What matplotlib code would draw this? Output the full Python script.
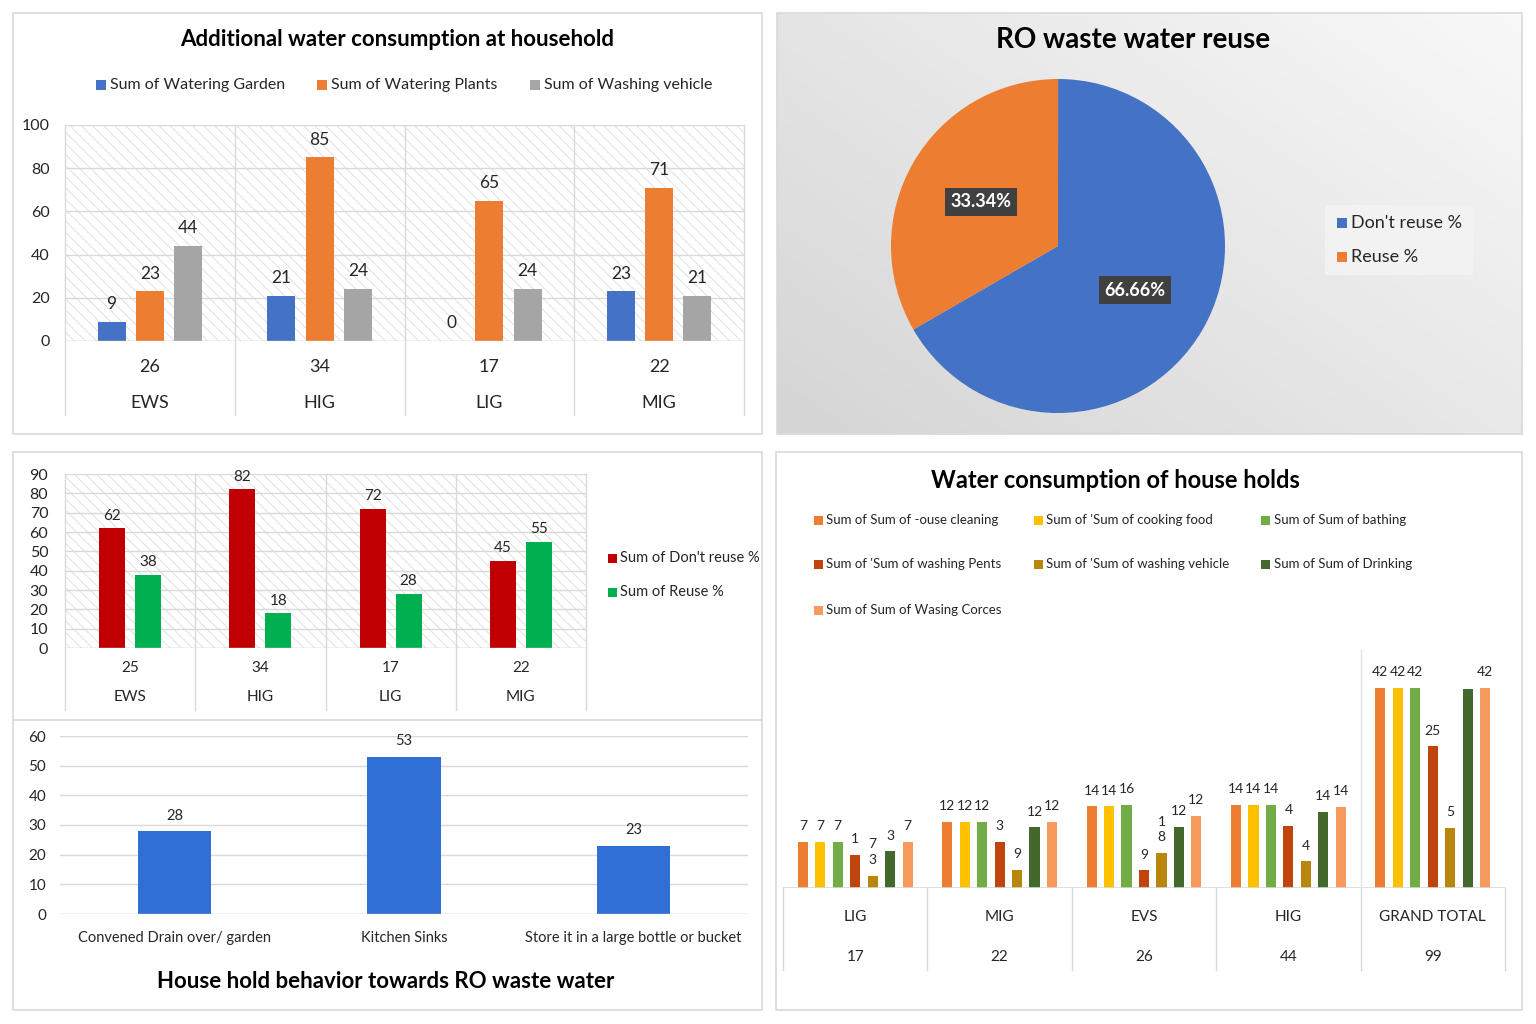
import numpy as np
import matplotlib
matplotlib.use('Agg')
import matplotlib.pyplot as plt
from matplotlib.patches import Rectangle

W, H = 1536, 1024
plt.rcParams['font.family'] = ['Lato', 'DejaVu Sans']
plt.rcParams['hatch.linewidth'] = 0.6
TXT = '#262626'

# --- data: additional water consumption at household
add_groups = ['EWS', 'HIG', 'LIG', 'MIG']
add_counts = ['26', '34', '17', '22']
add_garden = [9, 21, 0, 23]
add_plants = [23, 85, 65, 71]
add_vehicle = [44, 24, 24, 21]

# --- data: RO waste water reuse (pie)
pie_labels = ["Don't reuse %", 'Reuse %']
pie_values = [66.66, 33.34]

# --- data: reuse by group
reuse_groups = ['EWS', 'HIG', 'LIG', 'MIG']
reuse_counts = ['25', '34', '17', '22']
dont_reuse = [62, 82, 72, 45]
reuse = [38, 18, 28, 55]

# --- data: household behaviour towards RO waste water
behav_cats = ['Convened Drain over/ garden', 'Kitchen Sinks', 'Store it in a large bottle or bucket']
behav_vals = [28, 53, 23]

# --- data: water consumption of households (bar heights as drawn, labels as printed)
cons_groups = ['LIG', 'MIG', 'EVS', 'HIG', 'GRAND TOTAL']
cons_counts = ['17', '22', '26', '44', '99']
cons_series = ['Sum of Sum of -ouse cleaning', "Sum of 'Sum of cooking food", 'Sum of Sum of bathing',
               "Sum of 'Sum of washing Pents", "Sum of 'Sum of washing vehicle", 'Sum of Sum of Drinking',
               'Sum of Sum of Wasing Corces']
cons_heights = [
    [9.6, 13.8, 17.1, 17.4, 42],
    [9.6, 13.8, 17.1, 17.4, 42],
    [9.6, 13.8, 17.4, 17.4, 42],
    [6.9, 9.6, 3.7, 13.0, 29.7],
    [2.6, 3.8, 7.3, 5.6, 12.6],
    [7.7, 12.7, 12.8, 15.9, 41.7],
    [9.6, 13.8, 15.2, 17.0, 42],
]
cons_labels = [
    ['7', '12', '14', '14', '42'],
    ['7', '12', '14', '14', '42'],
    ['7', '12', '16', '14', '42'],
    ['1', '3', '9', '4', '25'],
    ['7\n3', '9', '1\n8', '4', '5'],
    ['3', '12', '12', '14', ''],
    ['7', '12', '12', '14', '42'],
]
cons_colors = ['#ED7D31', '#FFC000', '#70AD47', '#C0440E', '#B8860B', '#43682B', '#F79A5E']


def rect(x0, y0, x1, y1):
    return [x0 / W, 1 - y1 / H, (x1 - x0) / W, (y1 - y0) / H]


def box(fig, x0, y0, x1, y1):
    fig.add_artist(Rectangle((x0 / W, 1 - y1 / H), (x1 - x0) / W, (y1 - y0) / H,
                             transform=fig.transFigure, fill=False, ec='#d9d9d9', lw=1.2))


def legend_item(fig, x, y, color, label, size=11, sq=10):
    fig.add_artist(Rectangle(((x - sq / 2) / W, 1 - (y + sq / 2) / H), sq / W, sq / H,
                             transform=fig.transFigure, color=color, lw=0))
    fig.text((x + sq / 2 + 4) / W, 1 - y / H, label, fontsize=size, va='center', ha='left', color=TXT)


def style_axes(ax, ymax, step, fs, pad, hatch=True):
    ax.set_ylim(0, ymax)
    ax.set_yticks(np.arange(0, ymax + 1, step))
    ax.set_xticks([])
    for s in ax.spines.values():
        s.set_visible(False)
    ax.tick_params(axis='y', length=0, labelsize=fs, pad=pad, labelcolor=TXT)
    ax.grid(axis='y', color='#d9d9d9', lw=1)
    ax.set_axisbelow(True)
    if hatch:
        ax.add_patch(Rectangle((0, 0), 1, 1, transform=ax.transAxes, fc='white',
                               ec='#dcdcdc', hatch='\\\\\\', lw=0, zorder=0))


def category_area(ax, n, top, bottom, y_top, y_bot, y_end, fs, plot_lines=True):
    tr = ax.get_xaxis_transform()
    for b in np.arange(n + 1) - 0.5:
        ax.plot([b, b], [1 if plot_lines else 0, y_end], transform=tr, color='#d9d9d9',
                lw=1, clip_on=False, zorder=0.5)
    for i in range(n):
        ax.text(i, y_top, top[i], transform=tr, ha='center', va='center', fontsize=fs, color=TXT)
        ax.text(i, y_bot, bottom[i], transform=tr, ha='center', va='center', fontsize=fs, color=TXT)


fig = plt.figure(figsize=(W / 100, H / 100), dpi=100)
fig.patch.set_facecolor('white')

# ================= panel 1: additional water consumption =================
box(fig, 13, 13, 762, 434)
fig.text(397 / W, 1 - 40 / H, 'Additional water consumption at household', ha='center', va='center',
         fontsize=16, fontweight='bold', color='black')
legend_item(fig, 101, 85, '#4472C4', 'Sum of Watering Garden', 11.5)
legend_item(fig, 322, 85, '#ED7D31', 'Sum of Watering Plants', 11.5)
legend_item(fig, 535, 85, '#A5A5A5', 'Sum of Washing vehicle', 11.5)

ax1 = fig.add_axes(rect(65, 125, 744, 341))
x = np.arange(len(add_groups))
style_axes(ax1, 100, 20, 11.5, 11)
bw, off = 0.165, 0.225
for vals, col, dx in [(add_garden, '#4472C4', -off), (add_plants, '#ED7D31', 0), (add_vehicle, '#A5A5A5', off)]:
    ax1.bar(x + dx, vals, bw, color=col, zorder=2)
    for xi, v in zip(x + dx, vals):
        ax1.annotate(str(v), (xi, v), xytext=(0, 7), textcoords='offset points', ha='center',
                     va='bottom', fontsize=12.5, color=TXT)
ax1.set_xlim(-0.5, len(add_groups) - 0.5)
ax1.axhline(0, color='#d9d9d9', lw=1)
category_area(ax1, 4, add_counts, add_groups, -0.12, -0.287, -0.343, 13)

# ================= panel 2: pie =================
bg = fig.add_axes(rect(777, 13, 1522, 434))
xx, yy = np.meshgrid(np.linspace(0, 1, 200), np.linspace(0, 1, 120))
shade = 0.975 - 0.14 * (0.55 * (1 - xx) + 0.45 * yy)
bg.imshow(np.dstack([shade] * 3), extent=[0, 1, 0, 1], aspect='auto')
bg.set_axis_off()
box(fig, 777, 13, 1522, 434)
fig.text(1133 / W, 1 - 40 / H, 'RO waste water reuse', ha='center', va='center',
         fontsize=20, fontweight='bold', color='black')

axp = fig.add_axes(rect(891, 78, 1225, 414))
wedges, _, autotexts = axp.pie(pie_values, colors=['#4472C4', '#ED7D31'], startangle=210,
                               autopct=lambda p: f'{p:.2f}%', pctdistance=0.53,
                               wedgeprops=dict(lw=0))
for t in autotexts:
    t.set_color('white')
    t.set_fontsize(13)
    t.set_fontweight('bold')
    t.set_bbox(dict(boxstyle='square,pad=0.3', fc='#404040', ec='none'))
axp.set_xlim(-1, 1)
axp.set_ylim(-1, 1)
fig.add_artist(Rectangle((1325 / W, 1 - 275 / H), 148 / W, 70 / H, transform=fig.transFigure,
                         fc='#f2f2f2', ec='none'))
legend_item(fig, 1342, 223, '#4472C4', pie_labels[0], 13)
legend_item(fig, 1342, 257, '#ED7D31', pie_labels[1], 13)

# ================= panel 3: reuse by group =================
box(fig, 13, 452, 762, 1010)
fig.add_artist(plt.Line2D([13 / W, 762 / W], [1 - 720 / H, 1 - 720 / H], transform=fig.transFigure,
                          color='#d9d9d9', lw=1.2))
ax3 = fig.add_axes(rect(65, 474, 586, 648))
x = np.arange(len(reuse_groups))
style_axes(ax3, 90, 10, 11.5, 12)
bw, off = 0.2, 0.138
for vals, col, dx in [(dont_reuse, '#C00000', -off), (reuse, '#00B050', off)]:
    ax3.bar(x + dx, vals, bw, color=col, zorder=2)
    for xi, v in zip(x + dx, vals):
        ax3.annotate(str(v), (xi, v), xytext=(0, 4), textcoords='offset points', ha='center',
                     va='bottom', fontsize=11, color=TXT)
ax3.set_xlim(-0.5, len(reuse_groups) - 0.5)
ax3.axhline(0, color='#d9d9d9', lw=1)
category_area(ax3, 4, reuse_counts, reuse_groups, -0.115, -0.28, -0.356, 11)
legend_item(fig, 612, 558, '#C00000', "Sum of Don't reuse %", 10.5, 9)
legend_item(fig, 612, 592, '#00B050', 'Sum of Reuse %', 10.5, 9)

# ================= panel 4: household behaviour =================
ax4 = fig.add_axes(rect(60, 736, 748, 914))
x = np.arange(len(behav_cats))
style_axes(ax4, 60, 10, 11, 10, hatch=False)
ax4.bar(x, behav_vals, 0.32, color='#2F6FD6', zorder=2)
for xi, v in zip(x, behav_vals):
    ax4.annotate(str(v), (xi, v), xytext=(0, 6), textcoords='offset points', ha='center',
                 va='bottom', fontsize=10.5, color=TXT)
ax4.set_xlim(-0.5, len(behav_cats) - 0.5)
ax4.axhline(0, color='#d9d9d9', lw=1)
tr = ax4.get_xaxis_transform()
for i, c in enumerate(behav_cats):
    ax4.text(i, -0.135, c, transform=tr, ha='center', va='center', fontsize=10.5, color=TXT)
fig.text(386 / W, 1 - 981 / H, 'House hold behavior towards RO waste water', ha='center', va='center',
         fontsize=16, fontweight='bold', color='black')

# ================= panel 5: water consumption of households =================
box(fig, 776, 452, 1522, 1010)
fig.text(1115 / W, 1 - 480 / H, 'Water consumption of house holds', ha='center', va='center',
         fontsize=17, fontweight='bold', color='black')
leg_pos = [(818, 520), (1038, 520), (1265, 520), (818, 564), (1038, 564), (1265, 564), (818, 610)]
for (lx, ly), col, lab in zip(leg_pos, cons_colors, cons_series):
    legend_item(fig, lx, ly, col, lab, 9.5, 9)

ax5 = fig.add_axes(rect(783, 640, 1505, 888))
x = np.arange(len(cons_groups))
ax5.set_ylim(0, 52)
ax5.set_xlim(-0.5, len(cons_groups) - 0.5)
ax5.set_xticks([])
ax5.set_yticks([])
for s in ax5.spines.values():
    s.set_visible(False)
bw, pitch = 0.07, 0.121
for k, (hts, labs, col) in enumerate(zip(cons_heights, cons_labels, cons_colors)):
    xs = x + (k - 3) * pitch
    ax5.bar(xs, hts, bw, color=col, zorder=2)
    for xi, v, t in zip(xs, hts, labs):
        ax5.annotate(t, (xi, v), xytext=(0, 7), textcoords='offset points', ha='center',
                     va='bottom', fontsize=10, color=TXT, linespacing=1.35)
ax5.axhline(0, color='#d9d9d9', lw=1.2)
category_area(ax5, 5, cons_groups, cons_counts, -0.117, -0.278, -0.33, 11, plot_lines=False)
ax5.plot([3.5, 3.5], [0, 0.96], transform=ax5.get_xaxis_transform(), color='#e3e3e3', lw=1)

fig.savefig('out.png', dpi=100)
